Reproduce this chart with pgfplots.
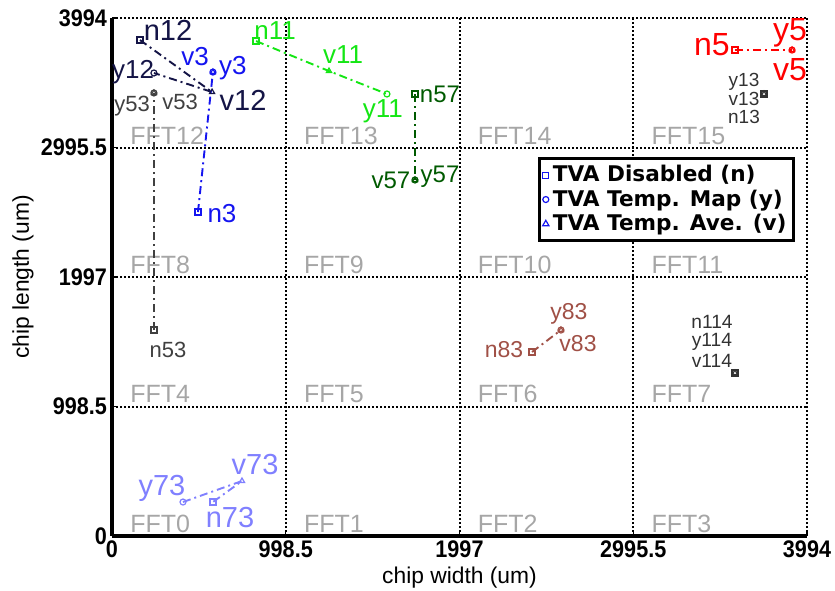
\documentclass[border=0pt]{standalone}
\usepackage{pgfplots}
\pgfplotsset{compat=1.18}
\usepackage{fontspec}
\setmainfont{Liberation Sans}
\newfontfamily\condfont[FakeStretch=0.9]{Liberation Sans}
\newfontfamily\legfont{DejaVu Sans}
\definecolor{navyc}{RGB}{20,20,70}
\definecolor{bluec}{RGB}{20,20,240}
\definecolor{gray53}{RGB}{64,64,64}
\definecolor{greenc}{RGB}{20,230,20}
\definecolor{dgreen}{RGB}{0,90,0}
\definecolor{redc}{RGB}{255,0,0}
\definecolor{gray13}{RGB}{50,50,50}
\definecolor{brownc}{RGB}{160,80,70}
\definecolor{periw}{RGB}{128,128,255}
\definecolor{fftgray}{RGB}{166,166,166}
\newcommand{\lab}[5]{\node[text=#1, font=\fontsize{#2}{#2}\selectfont, anchor=center, inner sep=0pt] at (axis cs:#3,#4) {#5};}
\newcommand{\fft}[3]{\node[text=fftgray, font=\fontsize{12.5}{12.5}\selectfont, anchor=base west, inner sep=0pt] at (axis cs:#1,#2) {#3};}
\begin{document}
\begin{tikzpicture}[x=1pt,y=1pt]
\useasboundingbox (-56,-27) rectangle (361.5,268);
\begin{axis}[
  at={(0,0)}, anchor=south west, scale only axis,
  width=347.5pt, height=259pt,
  xmin=0, xmax=3994, ymin=0, ymax=3994,
  xtick={0,998.5,1997,2995.5,3994}, xticklabels={0,998.5,1997,2995.5,3994},
  ytick={0,998.5,1997,2995.5,3994}, yticklabels={0,998.5,1997,2995.5,3994},
  grid=major, grid style={black, line width=1pt, dash pattern=on 1pt off 1pt},
  axis x line=bottom, axis y line=left,
  axis line style={line width=1.6pt, -},
  tick style={black, line width=0.6pt}, tick align=inside, major tick length=3pt,
  ticklabel style={font=\condfont\bfseries\fontsize{12}{14}\selectfont},
  xticklabel style={yshift=1pt},
  yticklabel style={xshift=1pt},
  /pgf/number format/assume math mode=true,
  xlabel={chip width (um)}, ylabel={chip length (um)},
  label style={font=\fontsize{11.4}{14}\selectfont},
  xlabel style={at={(axis description cs:0.5,-0.081)}, anchor=center},
  ylabel style={at={(axis description cs:-0.128,0.5)}, anchor=center},
  dd/.style={dash pattern=on 4pt off 2pt on 1pt off 2pt, line width=0.95pt, mark=none, forget plot},
  mk/.style={only marks, mark size=1.5pt, line width=0.6pt, mark options={solid}, forget plot},
  legend style={at={(0.983,0.732)}, anchor=north east, draw=black, line width=1.6pt,
    font=\legfont\bfseries\fontsize{10.8}{12}\selectfont, cells={anchor=west},
    inner sep=1.5pt, row sep=-1.5pt},
]
\addlegendimage{only marks, mark=square, mark size=1.5pt, line width=0.6pt, bluec}
\addlegendentry{TVA Disabled (n)}
\addlegendimage{only marks, mark=o, mark size=1.5pt, line width=0.6pt, bluec}
\addlegendentry{TVA Temp. Map (y)}
\addlegendimage{only marks, mark=triangle, mark size=1.8pt, line width=0.6pt, bluec}
\addlegendentry{TVA Temp. Ave. (v)}

% FFT labels
\fft{103}{30}{FFT0}\fft{1101.5}{30}{FFT1}\fft{2100}{30}{FFT2}\fft{3098.5}{30}{FFT3}
\fft{103}{1028}{FFT4}\fft{1101.5}{1028}{FFT5}\fft{2100}{1028}{FFT6}\fft{3098.5}{1028}{FFT7}
\fft{103}{2027}{FFT8}\fft{1101.5}{2027}{FFT9}\fft{2100}{2027}{FFT10}\fft{3098.5}{2027}{FFT11}
\fft{103}{3015}{FFT12}\fft{1101.5}{3015}{FFT13}\fft{2100}{3015}{FFT14}\fft{3098.5}{3015}{FFT15}

% series 12
\addplot[navyc, dd] coordinates {(161,3824) (575,3423) (241,3570)};
\addplot[navyc, mk, mark=square] coordinates {(161,3824)};
\addplot[navyc, mk, mark=o] coordinates {(241,3570)};
\addplot[navyc, mk, mark=triangle] coordinates {(575,3423)};
% series 3
\addplot[bluec, dd] coordinates {(494,2498) (580,3577)};
\addplot[bluec, mk, mark=square] coordinates {(494,2498)};
\addplot[bluec, mk, mark=o] coordinates {(580,3577)};
\addplot[bluec, mk, mark=triangle] coordinates {(580,3577)};
% series 53
\addplot[gray53, dd] coordinates {(241,1588) (241,3416)};
\addplot[gray53, mk, mark=square] coordinates {(241,1588)};
\addplot[gray53, mk, mark=o] coordinates {(241,3416)};
\addplot[gray53, mk, mark=triangle] coordinates {(241,3416)};
% series 11
\addplot[greenc, dd] coordinates {(828,3816) (1247,3585) (1580,3408)};
\addplot[greenc, mk, mark=square] coordinates {(828,3816)};
\addplot[greenc, mk, mark=o] coordinates {(1580,3408)};
\addplot[greenc, mk, mark=triangle] coordinates {(1247,3585)};
% series 57
\addplot[dgreen, dd] coordinates {(1741,3408) (1741,2745)};
\addplot[dgreen, mk, mark=square] coordinates {(1741,3408)};
\addplot[dgreen, mk, mark=o] coordinates {(1741,2745)};
\addplot[dgreen, mk, mark=triangle] coordinates {(1741,2745)};
% series 5
\addplot[redc, dd] coordinates {(3580,3747) (3908,3747)};
\addplot[redc, mk, mark=square] coordinates {(3580,3747)};
\addplot[redc, mk, mark=o] coordinates {(3908,3747)};
\addplot[redc, mk, mark=triangle] coordinates {(3908,3747)};
% series 13
\addplot[gray13, mk, mark=square] coordinates {(3747,3408)};
\addplot[gray13, mk, mark=o] coordinates {(3747,3408)};
\addplot[gray13, mk, mark=triangle] coordinates {(3747,3408)};
% series 114
\addplot[gray13, mk, mark=square] coordinates {(3580,1257)};
\addplot[gray13, mk, mark=o] coordinates {(3580,1257)};
\addplot[gray13, mk, mark=triangle] coordinates {(3580,1257)};
% series 83
\addplot[brownc, dd] coordinates {(2414,1419) (2580,1588)};
\addplot[brownc, mk, mark=square] coordinates {(2414,1419)};
\addplot[brownc, mk, mark=o] coordinates {(2580,1588)};
\addplot[brownc, mk, mark=triangle] coordinates {(2580,1588)};
% series 73
\addplot[periw, dd] coordinates {(408,262) (747,424) (580,262)};
\addplot[periw, mk, mark=square] coordinates {(580,262)};
\addplot[periw, mk, mark=o] coordinates {(408,262)};
\addplot[periw, mk, mark=triangle] coordinates {(747,424)};

% labels
\lab{navyc}{14.5}{322}{3901}{n12}
\lab{navyc}{13}{121}{3578}{y12}
\lab{navyc}{14.5}{753}{3362}{v12}
\lab{bluec}{13}{477}{3693}{v3}
\lab{bluec}{13}{695}{3608}{y3}
\lab{bluec}{13}{632}{2483}{n3}
\lab{gray53}{11}{115}{3315}{y53}
\lab{gray53}{11}{391}{3346}{v53}
\lab{gray53}{11}{322}{1434}{n53}
\lab{greenc}{13}{937}{3901}{n11}
\lab{greenc}{13}{1328}{3716}{v11}
\lab{greenc}{13}{1557}{3277}{y11}
\lab{dgreen}{12}{1885}{3408}{n57}
\lab{dgreen}{12}{1603}{2745}{v57}
\lab{dgreen}{12}{1885}{2768}{y57}
\lab{redc}{16}{3448}{3786}{n5}
\lab{redc}{16}{3896}{3878}{y5}
\lab{redc}{16}{3896}{3593}{v5}
\lab{gray13}{9.5}{3632}{3505}{y13}
\lab{gray13}{9.5}{3632}{3369}{v13}
\lab{gray13}{9.5}{3632}{3233}{n13}
\lab{gray13}{9.6}{3448}{1648}{n114}
\lab{gray13}{9.6}{3448}{1500}{y114}
\lab{gray13}{9.6}{3448}{1352}{v114}
\lab{brownc}{11.5}{2253}{1434}{n83}
\lab{brownc}{11.5}{2626}{1712}{y83}
\lab{brownc}{11.5}{2678}{1480}{v83}
\lab{periw}{14.5}{287}{370}{y73}
\lab{periw}{14.5}{822}{555}{v73}
\lab{periw}{14.5}{678}{139}{n73}
\end{axis}
\end{tikzpicture}
\end{document}
